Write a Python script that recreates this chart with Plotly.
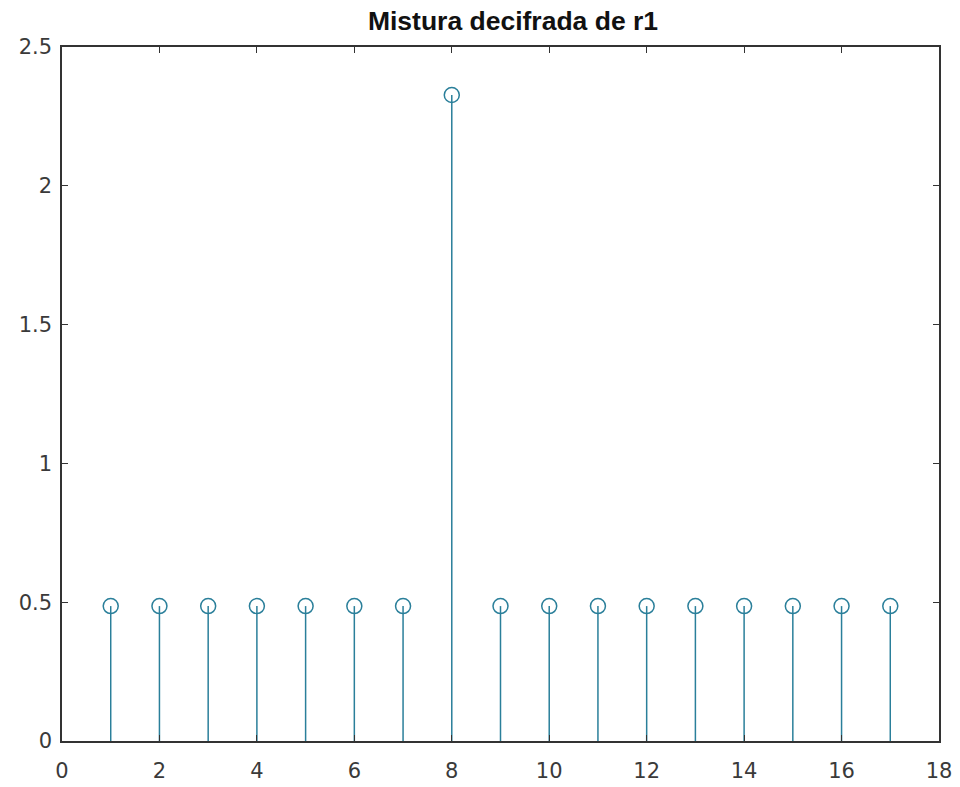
import plotly.graph_objects as go

# Data
n = list(range(1, 18))
values = [0.486, 0.486, 0.486, 0.486, 0.486, 0.486, 0.486, 2.327,
          0.486, 0.486, 0.486, 0.486, 0.486, 0.486, 0.486, 0.486, 0.486]
x_ticks = [0, 2, 4, 6, 8, 10, 12, 14, 16, 18]
y_ticks = [0, 0.5, 1, 1.5, 2, 2.5]
y_tick_labels = ["0", "0.5", "1", "1.5", "2", "2.5"]
title = "Mistura decifrada de r1"

color = "#2a7f9a"

stem_x, stem_y = [], []
for xi, vi in zip(n, values):
    stem_x += [xi, xi, None]
    stem_y += [0, vi, None]

fig = go.Figure()
fig.add_trace(go.Scatter(x=stem_x, y=stem_y, mode="lines",
                         line=dict(color=color, width=1.5),
                         hoverinfo="skip", showlegend=False))
fig.add_trace(go.Scatter(x=n, y=values, mode="markers",
                         marker=dict(symbol="circle-open", size=15,
                                     color=color, line=dict(width=1.5, color=color)),
                         showlegend=False))

tickfont = dict(family="DejaVu Sans, sans-serif", size=21, color="#3a3a3a")
axis_common = dict(showgrid=False, zeroline=False, showline=True, linecolor="#333333",
                   linewidth=1.5, mirror="ticks", ticks="inside", ticklen=6,
                   tickcolor="#333333", tickfont=tickfont, automargin=False)

fig.update_layout(
    width=960, height=787,
    margin=dict(l=62, r=21, t=47, b=46),
    paper_bgcolor="white", plot_bgcolor="white",
    title=dict(text="<b>" + title + "</b>", x=513 / 960, xanchor="center",
               y=1 - 21 / 787, yanchor="middle",
               font=dict(family="Liberation Sans, Arial, sans-serif", size=26.5, color="#111111")),
    xaxis=dict(range=[0, 18], tickvals=x_ticks, ticktext=[str(t) for t in x_ticks],
               ticklabelstandoff=10, **axis_common),
    yaxis=dict(range=[0, 2.5], tickvals=y_ticks, ticktext=y_tick_labels,
               ticklabelstandoff=4, **axis_common),
)

fig.write_html("out.html")
